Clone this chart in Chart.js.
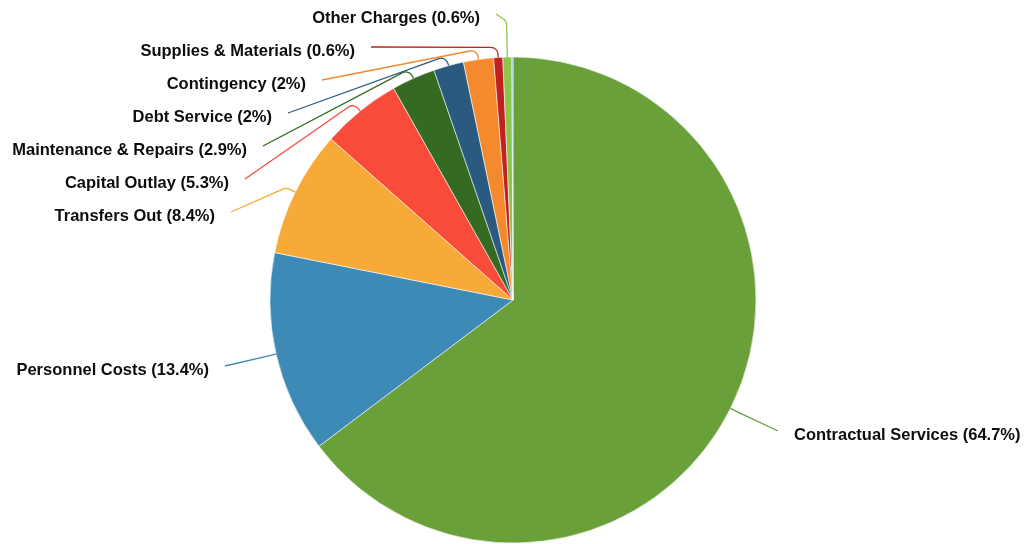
<!DOCTYPE html>
<html>
<head>
<meta charset="utf-8">
<script src="https://cdn.jsdelivr.net/npm/chart.js@4.4.1/dist/chart.umd.min.js"></script>
<style>
  html, body { margin: 0; padding: 0; background: #ffffff; }
  #wrap { width: 1024px; height: 544px; position: relative; }
</style>
</head>
<body>
<div id="wrap"><canvas id="c" width="1024" height="544"></canvas></div>
<script>
// ---- data ----
const categories = [
  "Contractual Services", "Personnel Costs", "Transfers Out", "Capital Outlay",
  "Maintenance & Repairs", "Debt Service", "Contingency", "Supplies & Materials",
  "Other Charges", "Miscellaneous"
];
const values = [64.7, 13.4, 8.4, 5.3, 2.9, 2, 2, 0.6, 0.6, 0.07];
const showLabel = [true, true, true, true, true, true, true, true, true, false];
const colors = [
  "#6aa03a", "#3e8ab7", "#f7aa37", "#f94b3a", "#356a22",
  "#2b5a80", "#f4892e", "#c0221f", "#8dc44c", "#6ab7e6"
];

// ---- label layout (positions of the text, not of marks) ----
const labelLayout = [
  { side: "right", x: 794, y: 434, elbow: 10 },
  { side: "left",  x: 209, y: 369, elbow: 10 },
  { side: "left",  x: 215, y: 215, elbow: 10 },
  { side: "left",  x: 229, y: 182, elbow: 10 },
  { side: "left",  x: 247, y: 149, elbow: 10 },
  { side: "left",  x: 272, y: 116, elbow: 10 },
  { side: "left",  x: 306, y: 83,  elbow: 10 },
  { side: "left",  x: 355, y: 50,  elbow: 10 },
  { side: "left",  x: 480, y: 17,  elbow: 36 },
  null
];

const leaderPlugin = {
  id: "leaderLabels",
  afterDatasetsDraw(chart) {
    const ctx = chart.ctx;
    const meta = chart.getDatasetMeta(0);
    meta.data.forEach((arc, i) => {
      const lay = labelLayout[i];
      if (!lay || !showLabel[i]) return;
      const p = arc.getProps(["x", "y", "startAngle", "endAngle", "outerRadius"], true);
      const mid = (p.startAngle + p.endAngle) / 2;
      const cx = Math.cos(mid), cy = Math.sin(mid);
      const x0 = p.x + cx * p.outerRadius, y0 = p.y + cy * p.outerRadius;
      const x1 = p.x + cx * (p.outerRadius + lay.elbow), y1 = p.y + cy * (p.outerRadius + lay.elbow);
      const x2 = lay.side === "left" ? lay.x + 16 : lay.x - 16;
      const y2 = lay.y - 3;
      ctx.save();
      ctx.strokeStyle = colors[i];
      ctx.lineWidth = 1.3;
      ctx.lineJoin = "round";
      ctx.beginPath();
      ctx.moveTo(x0, y0);
      ctx.arcTo(x1, y1, x2, y2, 7);
      ctx.lineTo(x2, y2);
      ctx.stroke();
      ctx.font = "bold 16.5px 'Liberation Sans', Arial, Helvetica, sans-serif";
      ctx.fillStyle = "#0d0d0d";
      ctx.textBaseline = "middle";
      ctx.textAlign = lay.side === "left" ? "right" : "left";
      ctx.fillText(categories[i] + " (" + values[i] + "%)", lay.x, lay.y + 1);
      ctx.restore();
    });
  }
};

new Chart(document.getElementById("c"), {
  type: "pie",
  data: {
    labels: categories,
    datasets: [{
      data: values,
      backgroundColor: colors,
      borderColor: "rgba(255,255,255,0.7)",
      borderWidth: 0.8
    }]
  },
  options: {
    responsive: false,
    animation: false,
    radius: 243,
    layout: { padding: { left: 270, right: 268, top: 57, bottom: 1 } },
    plugins: {
      legend: { display: false },
      tooltip: { enabled: false }
    }
  },
  plugins: [leaderPlugin]
});
</script>
</body>
</html>
